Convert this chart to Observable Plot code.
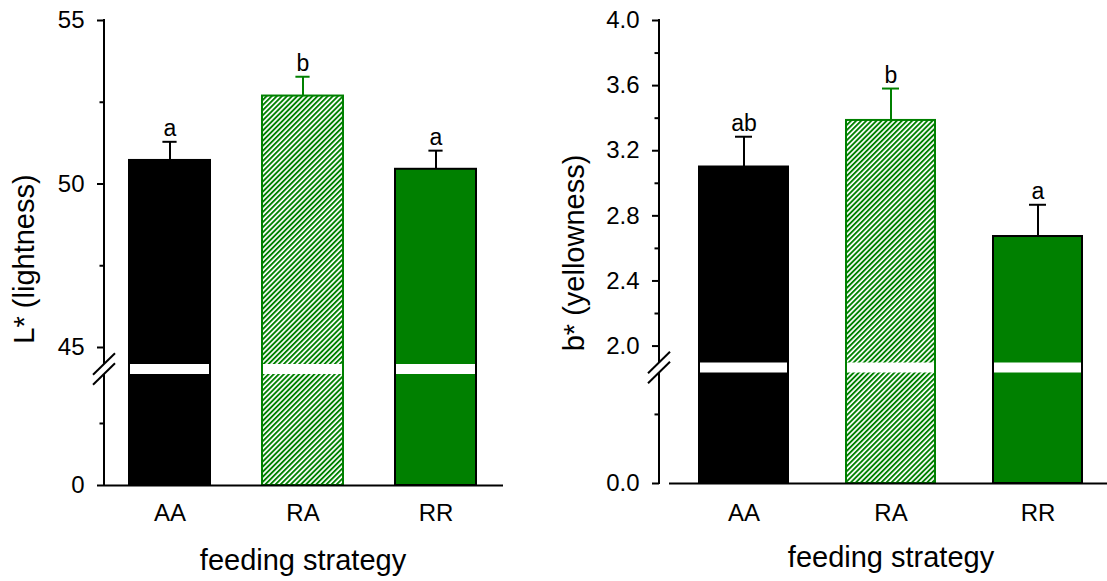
<!DOCTYPE html>
<html><head><meta charset="utf-8">
<script src="https://cdn.jsdelivr.net/npm/d3@7"></script>
<script src="https://cdn.jsdelivr.net/npm/@observablehq/plot@0.6"></script>
<style>
html,body{margin:0;padding:0;background:#fff;}
#wrap{display:flex;width:1107px;height:581px;overflow:hidden;}
</style></head><body>
<svg width="0" height="0" style="position:absolute">
<defs><pattern id="hatchGreen" patternUnits="userSpaceOnUse" width="3.6" height="3.6" patternTransform="rotate(45)">
<rect width="3.6" height="3.6" fill="white"/><rect width="1.9" height="3.6" fill="#008000"/></pattern></defs></svg>
<div id="wrap"></div>
<script>
// ---- data ----
const categories = ["AA", "RA", "RR"];
const lightness = [50.72, 52.69, 50.45];
const lightnessSE = [0.57, 0.59, 0.57];
const lightnessLetters = ["a", "b", "a"];
const yellowness = [3.10, 3.386, 2.673];
const yellownessSE = [0.186, 0.196, 0.195];
const yellownessLetters = ["ab", "b", "a"];
const lightnessTicks = [0, 45, 50, 55];
const lightnessMinorTicks = [20, 47.5, 52.5];
const yellownessTicks = [0, 2.0, 2.4, 2.8, 3.2, 3.6, 4.0];
const yellownessMinorTicks = [1.0, 2.2, 2.6, 3.0, 3.4, 3.8];
const xTitle = "feeding strategy";

// ---- styles ----
const green = "#008000";
const fillBy = {AA: "black", RA: "url(#hatchGreen)", RR: green};
const strokeBy = {AA: "black", RA: green, RR: "black"};
const FONT = "'Liberation Sans', Arial, Helvetica, sans-serif";

function panel(o) {
  const rows = categories.map((c, i) => ({cat: c, value: o.values[i], upper: o.values[i] + o.errs[i], letter: o.letters[i]}));
  const [lo, A, B, hi] = o.yDomain;
  const breakAxis = (index, scales, values, dims) => {
    const y = scales.y, x = dims.marginLeft;
    const g = d3.create("svg:g").attr("stroke", "black").attr("stroke-width", 2).attr("fill", "none");
    g.append("line").attr("x1", x).attr("x2", x).attr("y1", y(hi) - 1).attr("y2", y(B));
    g.append("line").attr("x1", x).attr("x2", x).attr("y1", y(A)).attr("y2", y(lo) + 1);
    for (const v of [B, A]) {
      g.append("line").attr("x1", x - 11).attr("y1", y(v) + 10.8).attr("x2", x + 11).attr("y2", y(v) - 10.8);
    }
    return g.node();
  };
  return Plot.plot({
    width: o.width, height: 581,
    marginLeft: o.marginLeft, marginRight: o.marginRight, marginTop: 20, marginBottom: o.marginBottom,
    style: {fontFamily: FONT, background: "white", color: "black", overflow: "visible"},
    x: {type: "band", domain: categories, range: o.xRange, paddingInner: o.pInner, paddingOuter: o.pOuter, label: null},
    y: {type: "linear", domain: o.yDomain, range: o.yRange, label: null},
    color: {type: "identity"},
    marks: [
      Plot.barY(rows, {x: "cat", y: "value", fill: d => fillBy[d.cat], stroke: d => strokeBy[d.cat], strokeWidth: 2}),
      Plot.barY(rows, {x: "cat", y1: () => A, y2: () => B, fill: "white", insetLeft: 1, insetRight: 1}),
      Plot.ruleX(rows, {x: "cat", y1: "value", y2: "upper", stroke: d => strokeBy[d.cat], strokeWidth: 2}),
      Plot.tickY(rows, {x: "cat", y: "upper", stroke: d => strokeBy[d.cat], strokeWidth: 2, insetLeft: o.capInset, insetRight: o.capInset}),
      Plot.text(rows, {x: "cat", y: "upper", text: "letter", dy: -13.4, fontSize: 23, fill: "black"}),
      Plot.ruleY([0], {strokeWidth: 2, insetLeft: o.baseInset}),
      Plot.axisY({ticks: o.ticks, tickSize: 7, tickPadding: 13, tickFormat: o.fmt, fontSize: 24, strokeWidth: 2}),
      Plot.axisY({ticks: o.minor, tickSize: 4.5, tickFormat: () => "", strokeWidth: 2}),
      Plot.axisX({tickSize: 0, tickPadding: o.catPad, fontSize: 24}),
      breakAxis,
      Plot.text([o.yTitle], {frameAnchor: "left", rotate: -90, dx: o.yTitleDx, dy: o.yTitleDy, textAnchor: "middle", lineAnchor: "middle", fontSize: 29}),
      Plot.text([xTitle], {x: () => "RA", y: () => 0, dy: o.xTitleDy, fontSize: 29})
    ]
  });
}

const left = panel({
  values: lightness, errs: lightnessSE, letters: lightnessLetters,
  ticks: lightnessTicks, minor: lightnessMinorTicks, fmt: d => String(d),
  yDomain: [0, 35.8, 44.48, 55], yRange: [485, 374, 364, 20],
  width: 553, marginLeft: 104, marginRight: 50, marginBottom: 96,
  xRange: [104, 502], pInner: 0.39, pOuter: 0.19,
  capInset: 33.4, baseInset: 0, catPad: 18.7,
  yTitle: "L* (lightness)", yTitleDx: -79.8, yTitleDy: 6, xTitleDy: 75.7
});
const right = panel({
  values: yellowness, errs: yellownessSE, letters: yellownessLetters,
  ticks: yellownessTicks, minor: yellownessMinorTicks, fmt: d => d.toFixed(1),
  yDomain: [0, 1.6, 1.896, 4.0], yRange: [483, 372.5, 362.5, 20],
  width: 554, marginLeft: 106, marginRight: 0, marginBottom: 98,
  xRange: [106, 569.1], pInner: 0.396, pOuter: 0.27,
  capInset: 36, baseInset: 10, catPad: 20,
  yTitle: "b* (yellowness)", yTitleDx: -84.3, yTitleDy: 1, xTitleDy: 74.7
});
document.getElementById("wrap").append(left, right);
</script>
</body></html>
